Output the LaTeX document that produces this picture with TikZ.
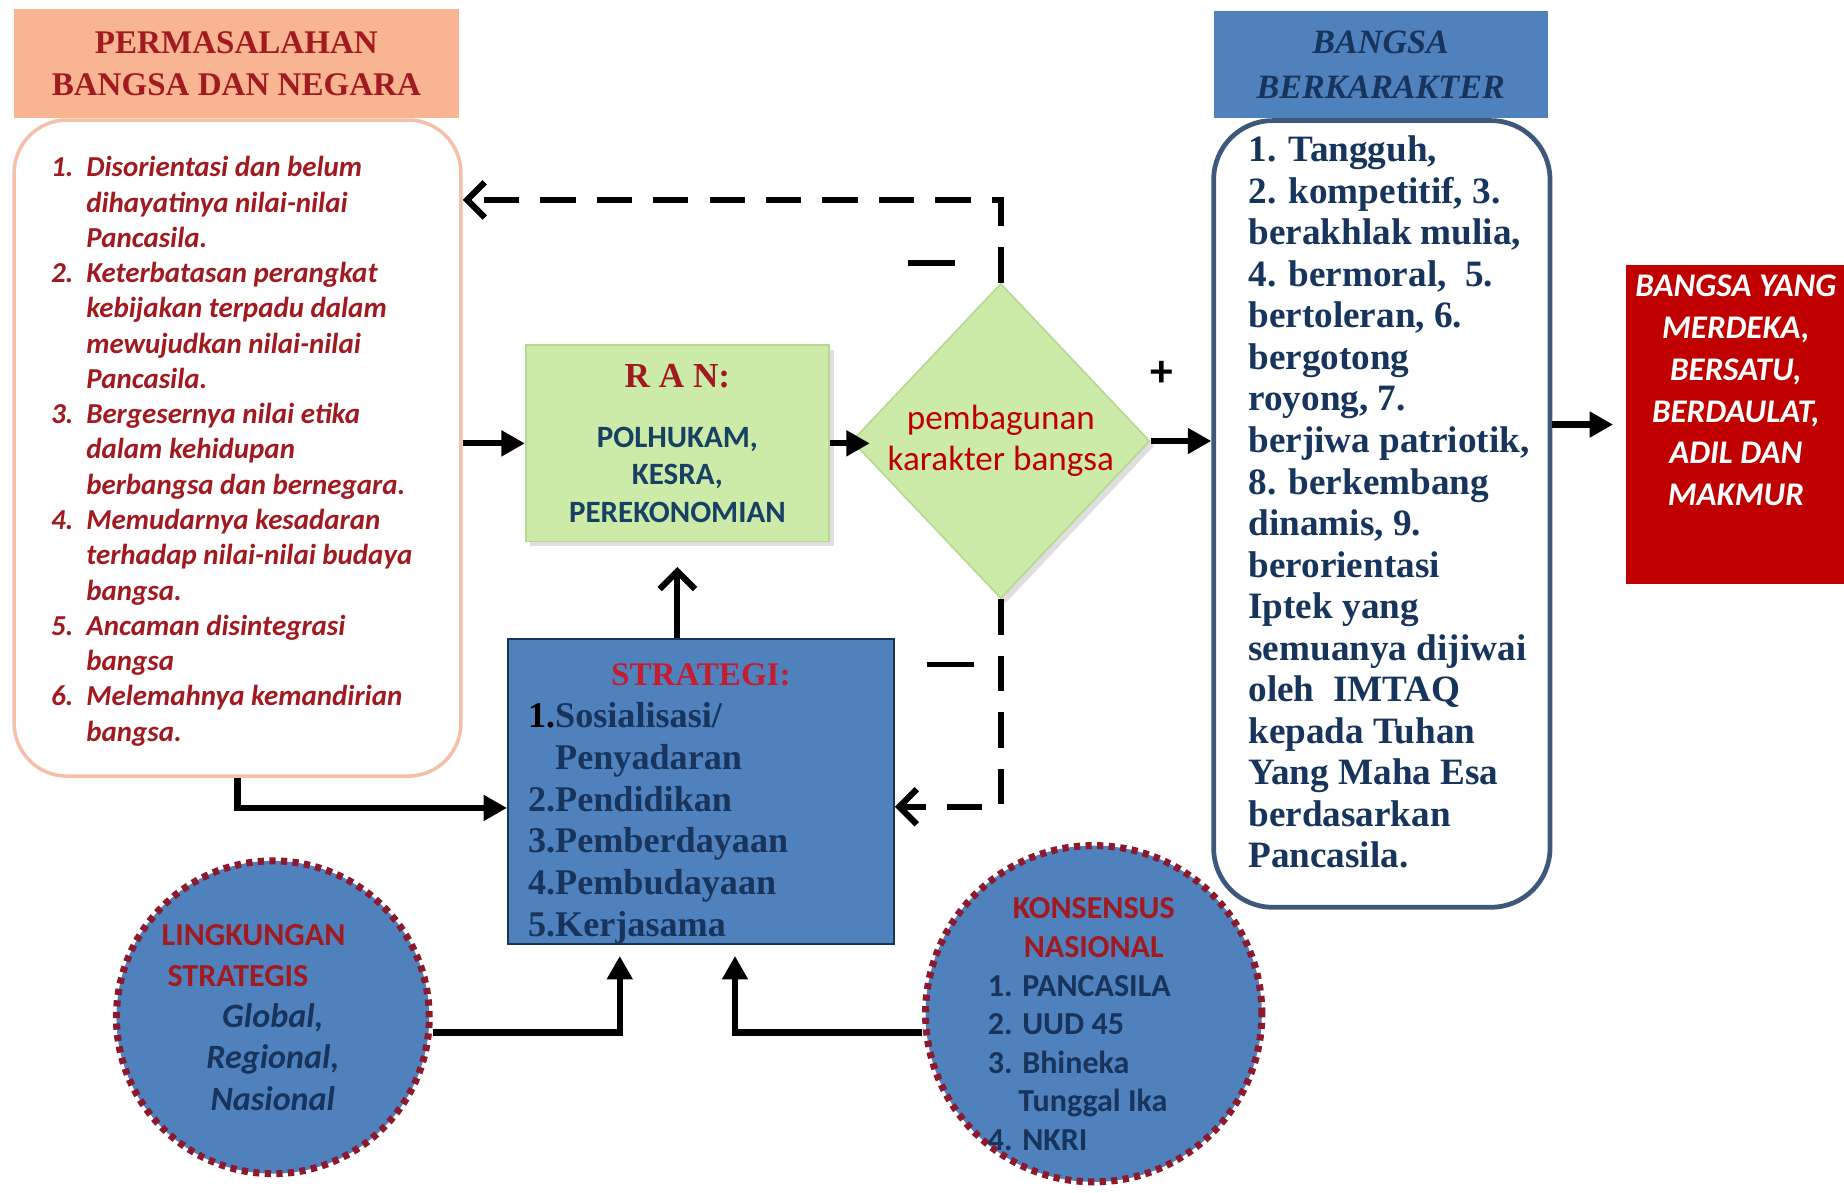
\documentclass[tikz,border=0pt]{standalone}
\usepackage{fontspec}
\setmainfont{Liberation Serif}
\newfontfamily\calfont{Carlito}
\usetikzlibrary{arrows.meta,positioning,shapes.geometric,shadows}

\definecolor{peach}{RGB}{249,180,146}
\definecolor{peachline}{RGB}{244,192,170}
\definecolor{darkred}{RGB}{160,26,32}
\definecolor{leaf}{RGB}{204,234,168}
\definecolor{leafline}{RGB}{182,216,146}
\definecolor{steel}{RGB}{79,129,189}
\definecolor{navy}{RGB}{22,52,92}
\definecolor{ranblue}{RGB}{24,64,98}
\definecolor{goalred}{RGB}{192,0,0}
\definecolor{dotred}{RGB}{140,26,46}
\definecolor{stratred}{RGB}{196,28,48}
\definecolor{charline}{RGB}{62,88,124}

\newcommand{\kitem}[1]{\makebox[3.6cm][l]{#1}}
\newcommand{\ltitle}[1]{\makebox[3.78cm][l]{#1}}

\begin{document}
\begin{tikzpicture}[
    x=0.02cm, y=-0.02cm,
    every node/.style={inner sep=0pt},
    title/.style={rectangle, align=center, font=\bfseries\fontsize{16}{20.5}\selectfont},
    listbox/.style={rectangle, fill=white, rounded corners=0.9cm},
    ranbox/.style={rectangle, fill=leaf, draw=leafline, line width=0.8pt, drop shadow={opacity=0.25}},
    circ/.style={circle, fill=steel, draw=dotred, line width=3.4pt, dash pattern=on 3pt off 2.6pt, align=center},
    flow/.style={-{Triangle[length=0.4cm, width=0.42cm]}, line width=3pt},
    lift/.style={-{Straight Barb[length=0.3cm, width=0.6cm]}, line width=3pt},
    feedback/.style={-{Straight Barb[length=0.3cm, width=0.6cm]}, line width=3pt, dash pattern=on 0.6cm off 0.36cm}
]
\path[use as bounding box, fill=white] (0,0) rectangle (1568,1014);

% left column
\node[title, fill=peach, text=darkred, minimum width=7.56cm, minimum height=1.84cm] (probhead) at (201,54) {PERMASALAHAN\\BANGSA DAN NEGARA};
\node[listbox, draw=peachline, line width=1.7pt, minimum width=7.6cm, minimum height=11.16cm, text=darkred,
      font=\calfont\bfseries\itshape\fontsize{14}{17.07}\selectfont] (probbox) at (202,381) {%
\begin{tabular}{@{}p{0.6cm}@{}l@{\hspace{0.2cm}}}
1. & \rule{0pt}{0.55cm}Disorientasi dan belum\\
   & dihayatinya nilai-nilai\\
   & Pancasila.\\
2. & Keterbatasan perangkat\\
   & kebijakan terpadu dalam\\
   & mewujudkan nilai-nilai\\
   & Pancasila.\\
3. & Bergesernya nilai etika\\
   & dalam kehidupan\\
   & berbangsa dan bernegara.\\
4. & Memudarnya kesadaran\\
   & terhadap nilai-nilai budaya\\
   & bangsa.\\
5. & Ancaman disintegrasi\\
   & bangsa\\
6. & Melemahnya kemandirian\\
   & bangsa.
\end{tabular}};

% middle
\node[ranbox, minimum width=5.16cm, minimum height=3.34cm, align=center, text=ranblue,
      font=\calfont\bfseries\fontsize{15}{18.2}\selectfont] (ran) at (576,377)
      {{\rmfamily\color{darkred}\fontsize{17}{20}\selectfont R A N:}\\[0.38cm]POLHUKAM,\\KESRA,\\PEREKONOMIAN};
\node[diamond, fill=leaf, draw=leafline, line width=0.8pt, drop shadow={opacity=0.25}, minimum width=4.96cm, minimum height=5.36cm,
      align=center, text=goalred, font=\calfont\fontsize{17}{20}\selectfont] (build) at (851,375) {pembagunan\\karakter bangsa};
\node[rectangle, fill=steel, draw=navy, line width=1pt, minimum width=6.56cm, minimum height=5.2cm, text width=5.88cm, align=left,
      text=navy, font=\bfseries\fontsize{17.5}{20.2}\selectfont] (strategi) at (596,673)
      {\makebox[\linewidth][c]{\rule{0pt}{0.8cm}\color{stratred}\fontsize{16}{20.2}\selectfont STRATEGI:}\\
       {\color{black}1.}Sosialisasi/\\\phantom{1.}Penyadaran\\2.Pendidikan\\3.Pemberdayaan\\4.Pembudayaan\\5.Kerjasama};

% right column
\node[title, fill=steel, text=navy, font=\bfseries\itshape\fontsize{16.5}{21.6}\selectfont, minimum width=5.68cm, minimum height=1.82cm] (charhead) at (1174,55) {BANGSA\\BERKARAKTER};
\node[listbox, draw=charline, line width=2.3pt, rounded corners=1cm, minimum width=5.72cm, minimum height=13.38cm] (charbox) at (1175,437) {};
\node[align=left, text=navy, font=\bfseries\fontsize{18}{20.1}\selectfont] (chartext) at (1181,427) {1. Tangguh,\\2. kompetitif, 3.\\berakhlak mulia,\\4. bermoral,\ \ 5.\\bertoleran, 6.\\bergotong\\royong, 7.\\berjiwa patriotik,\\8. berkembang\\dinamis, 9.\\berorientasi\\Iptek yang\\semuanya dijiwai\\oleh\ \ IMTAQ\\kepada Tuhan\\Yang Maha Esa\\berdasarkan\\Pancasila.};
\node[rectangle, fill=goalred, minimum width=3.72cm, minimum height=5.44cm] (goal) at (1476,361) {};
\node[align=center, text=white, font=\calfont\bfseries\itshape\fontsize{16}{20.2}\selectfont] (goaltext) at (1476,332) {BANGSA YANG\\MERDEKA,\\BERSATU,\\BERDAULAT,\\ADIL DAN\\MAKMUR};

% bottom circles
\node[circ, minimum size=5.32cm, font=\calfont\bfseries\fontsize{15.5}{20}\selectfont] (lingk) at (232,865)
      {\ltitle{\color{darkred}LINGKUNGAN}\\\ltitle{\hspace*{0.1cm}\color{darkred}STRATEGIS}\\
       {\color{navy}\itshape\fontsize{16.5}{20}\selectfont Global,}\\{\color{navy}\itshape\fontsize{16.5}{20}\selectfont Regional,}\\{\color{navy}\itshape\fontsize{16.5}{20}\selectfont Nasional}};
\node[circ, minimum size=5.72cm] (konsen) at (930,862) {};
\node[align=center, text=navy, font=\calfont\bfseries\fontsize{15.5}{18.7}\selectfont] (konsentext) at (930,871)
      {{\color{darkred}KONSENSUS}\\{\color{darkred}NASIONAL}\\\kitem{1. PANCASILA}\\\kitem{2. UUD 45}\\\kitem{3. Bhineka}\\\kitem{\hspace*{0.52cm}Tunggal Ika}\\\kitem{4. NKRI}};

% signs
\node[font=\calfont\bfseries\fontsize{22}{22}\selectfont] (plus) at (988,318) {+};
\node (minustop) at (792,224) {\rule{0.8cm}{0.1cm}};
\node (minusbot) at (808,565) {\rule{0.8cm}{0.1cm}};

% connectors
\coordinate (fbtop) at (851,170);
\coordinate (fbbot) at (851,686);
\coordinate (lowlink) at (202,687);
\coordinate (lturn) at (527,878);
\coordinate (rturn) at (625,878);
\draw[flow] (probbox.east |- ran.west) -- (ran.west);
\draw[flow, shorten >=-0.32cm] (ran.east) -- (ran.east -| build.west);
\draw[flow] (build.east) -- (build.east -| charbox.west);
\draw[flow, shorten >=0.22cm] (goal.west -| charbox.east) -- (goal.west);
\draw[feedback] (build.north) -- (fbtop) -- (fbtop -| probbox.east);
\draw[feedback] (build.south) -- (fbbot) -- (fbbot -| strategi.east);
\draw[flow] (probbox.south) -- (lowlink) -- (lowlink -| strategi.west);
\draw[lift, shorten >=0.42cm] (strategi.north -| ran.south) -- (ran.south);
\draw[flow, shorten >=0.18cm] (lturn -| lingk.east) -- (lturn) -- (lturn |- strategi.south);
\draw[flow, shorten >=0.18cm] (rturn -| konsen.west) -- (rturn) -- (rturn |- strategi.south);
\end{tikzpicture}
\end{document}
